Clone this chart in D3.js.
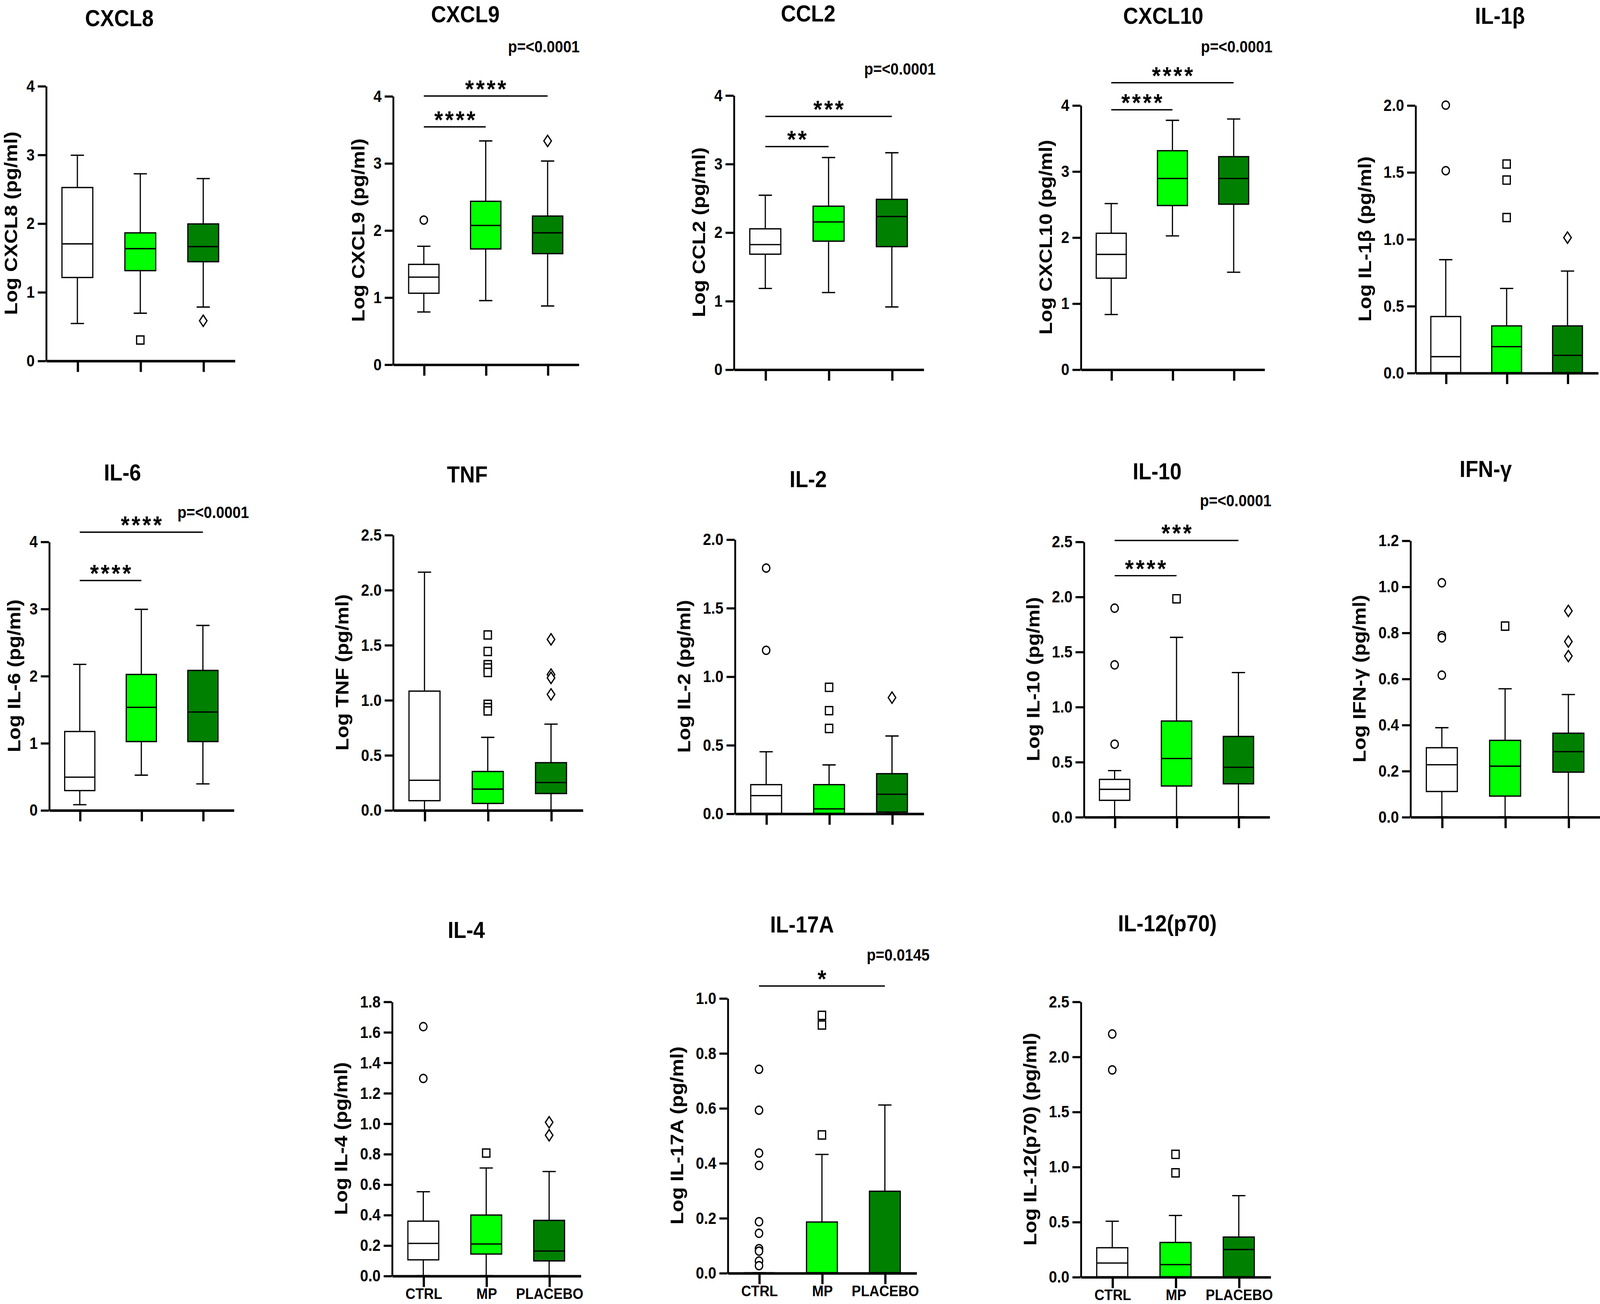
<!DOCTYPE html>
<html>
<head>
<meta charset="utf-8">
<script src="https://cdn.jsdelivr.net/npm/d3@7"></script>
<style>
  html, body { margin: 0; padding: 0; background: #fff; overflow: hidden; }
  svg { display: block; }
</style>
</head>
<body>
<svg id="chart"></svg>
<script>
// ---- data ----
const cytokines = ['CXCL8', 'CXCL9', 'CCL2', 'CXCL10', 'IL-1β',
                   'IL-6', 'TNF', 'IL-2', 'IL-10', 'IFN-γ',
                   'IL-4', 'IL-17A', 'IL-12(p70)'];
const groups = ['CTRL', 'MP', 'PLACEBO'];
const groupColors = ['#ffffff', '#00ff00', '#008000'];

const yMax  = [4, 4, 4, 4, 2,   4, 2.5, 2, 2.5, 1.2,   1.8, 1, 2.5];
const yStep = [1, 1, 1, 1, 0.5, 1, 0.5, 0.5, 0.5, 0.2, 0.2, 0.2, 0.5];

// [min, q1, median, q3, max] per cytokine
const ctrlStats = [
  [0.54, 1.21, 1.70, 2.52, 2.99],
  [0.78, 1.06, 1.30, 1.49, 1.76],
  [1.18, 1.68, 1.82, 2.05, 2.54],
  [0.83, 1.38, 1.74, 2.06, 2.51],
  [0, 0, 0.12, 0.42, 0.845],
  [0.08, 0.29, 0.49, 1.17, 2.17],
  [0, 0.085, 0.27, 1.08, 2.16],
  [0, 0, 0.13, 0.21, 0.45],
  [0, 0.15, 0.25, 0.34, 0.42],
  [0, 0.11, 0.226, 0.30, 0.387],
  [0, 0.104, 0.212, 0.358, 0.551],
  [0, 0, 0, 0, 0],
  [0, 0, 0.125, 0.264, 0.505]
];
const mpStats = [
  [0.69, 1.31, 1.63, 1.86, 2.72],
  [0.95, 1.72, 2.07, 2.43, 3.33],
  [1.12, 1.87, 2.15, 2.38, 3.09],
  [2.02, 2.48, 2.89, 3.31, 3.77],
  [0, 0, 0.195, 0.35, 0.63],
  [0.52, 1.02, 1.53, 2.02, 2.99],
  [0, 0.06, 0.19, 0.35, 0.66],
  [0, 0, 0.033, 0.21, 0.354],
  [0, 0.28, 0.53, 0.87, 1.63],
  [0, 0.09, 0.22, 0.332, 0.556],
  [0, 0.142, 0.208, 0.398, 0.707],
  [0, 0, 0, 0.185, 0.431],
  [0, 0, 0.111, 0.312, 0.557]
];
const placeboStats = [
  [0.78, 1.44, 1.66, 1.99, 2.65],
  [0.87, 1.65, 1.96, 2.21, 3.03],
  [0.91, 1.79, 2.23, 2.48, 3.16],
  [1.47, 2.50, 2.89, 3.22, 3.79],
  [0, 0, 0.13, 0.35, 0.76],
  [0.39, 1.02, 1.46, 2.08, 2.75],
  [0, 0.15, 0.25, 0.43, 0.78],
  [0, 0.01, 0.14, 0.29, 0.565],
  [0, 0.30, 0.45, 0.73, 1.31],
  [0, 0.194, 0.283, 0.363, 0.531],
  [0, 0.097, 0.162, 0.363, 0.684],
  [0, 0, 0, 0.297, 0.611],
  [0, 0, 0.248, 0.361, 0.737]
];

const ctrlOutliers = [
  [], [2.15], [], [], [2.0, 1.51],
  [], [], [1.79, 1.19], [1.895, 1.38, 0.66], [1.016, 0.787, 0.777, 0.615],
  [1.635, 1.295], [0.741, 0.592, 0.436, 0.391, 0.186, 0.144, 0.088, 0.079, 0.043, 0.026], [2.205, 1.879]
];
const mpOutliers = [
  [0.30], [], [], [], [1.56, 1.44, 1.16],
  [], [1.59, 1.44, 1.32, 1.29, 1.25, 0.96, 0.93, 0.90], [0.92, 0.75, 0.62], [1.98], [0.828],
  [0.805], [0.937, 0.902, 0.502], [1.112, 0.944]
];
const placeboOutliers = [
  [0.58], [3.33], [], [], [1.01],
  [], [1.55, 1.23, 1.20, 1.05], [0.845], [], [0.894, 0.761, 0.698],
  [1.007, 0.922], [], []
];

// significance brackets: cytokine index, group from, group to, level, stars
const sigBars = [
  [1, 0, 2, 4.0, '****'], [1, 0, 1, 3.54, '****'],
  [2, 0, 2, 3.69, '***'], [2, 0, 1, 3.25, '**'],
  [3, 0, 2, 4.34, '****'], [3, 0, 1, 3.93, '****'],
  [5, 0, 2, 4.14, '****'], [5, 0, 1, 3.42, '****'],
  [8, 0, 2, 2.51, '***'], [8, 0, 1, 2.19, '****'],
  [11, 0, 2, 1.044, '*']
];
const pValues = ['', 'p=<0.0001', 'p=<0.0001', 'p=<0.0001', '',
                 'p=<0.0001', '', '', 'p=<0.0001', '',
                 '', 'p=0.0145', ''];

// ---- layout (in a 1568 x 1151 frame) ----
// axis x start, axis x end, y of zero, y of max, title centre x, title baseline
const frames = [
  [45, 230, 318.3, 75.8, 117, 23],
  [385, 567, 321.6, 84.7, 456, 19.5],
  [719, 905, 326, 84, 792, 19],
  [1059, 1239, 326, 92.8, 1140, 21],
  [1387, 1566, 329, 92.8, 1470, 21],
  [48, 229, 715, 478, 120, 424],
  [385, 571, 715, 472, 458, 426],
  [720, 905, 718, 476, 792, 430],
  [1062, 1244, 721, 478, 1134, 423],
  [1382, 1568, 721, 477, 1456, 421],
  [384, 569, 1126, 884, 457, 828],
  [713, 898, 1123.5, 881, 786, 823],
  [1059, 1245, 1127, 884, 1144, 822]
];
// p label: level in data units, shift past the axis end
const pLayout = [null, [4.65, 1], [4.30, 12], [4.8, 8], null,
                 [4.35, 15], null, null, [2.82, 2], null,
                 null, [1.136, 13], null];

const FONT = "'Liberation Sans', Arial, Helvetica, sans-serif";
const W = 1568, H = 1151;

const svg = d3.select('#chart')
  .attr('width', window.innerWidth)
  .attr('height', window.innerHeight)
  .attr('viewBox', `0 0 ${W} ${H}`)
  .attr('preserveAspectRatio', 'none');

svg.append('rect').attr('width', W).attr('height', H).attr('fill', '#fff');

const marker = (k, cx, cy) => {
  if (k === 0) return `M${cx - 3.6},${cy}a3.6,3.6 0 1,0 7.2,0a3.6,3.6 0 1,0 -7.2,0Z`;
  if (k === 1) return `M${cx - 3.6},${cy - 3.6}h7.2v7.2h-7.2Z`;
  return `M${cx},${cy - 5}L${cx + 3.7},${cy}L${cx},${cy + 5}L${cx - 3.7},${cy}Z`;
};

cytokines.forEach((name, i) => {
  const [x0, x1, yB, yT, tx, ty] = frames[i];
  const decimal = yStep[i] < 1;
  const lastRow = i >= 10;

  const y = d3.scaleLinear().domain([0, yMax[i]]).range([yB, yT]);
  const x = d3.scalePoint().domain(groups).range([x0, x1]).padding(0.5);
  const ticks = d3.range(0, yMax[i] + yStep[i] / 2, yStep[i]);

  const g = svg.append('g').attr('class', 'panel');

  const stats = [ctrlStats[i], mpStats[i], placeboStats[i]];
  const outs = [ctrlOutliers[i], mpOutliers[i], placeboOutliers[i]];
  const bw = x.step() * 0.49;
  const cap = 13;

  groups.forEach((grp, k) => {
    const [mn, q1, md, q3, mx] = stats[k];
    const cx = x(grp);
    const bg = g.append('g').attr('stroke', '#000').attr('stroke-width', 1.15);

    bg.append('line')
      .attr('x1', cx).attr('x2', cx)
      .attr('y1', y(mx)).attr('y2', y(q3));
    bg.append('line')
      .attr('x1', cx).attr('x2', cx)
      .attr('y1', y(q1)).attr('y2', y(mn));
    bg.append('line')
      .attr('x1', cx - cap / 2).attr('x2', cx + cap / 2)
      .attr('y1', y(mx)).attr('y2', y(mx));
    bg.append('line')
      .attr('x1', cx - cap / 2).attr('x2', cx + cap / 2)
      .attr('y1', y(mn)).attr('y2', y(mn));

    bg.append('rect')
      .attr('x', cx - bw / 2)
      .attr('y', y(q3))
      .attr('width', bw)
      .attr('height', y(q1) - y(q3))
      .attr('fill', groupColors[k]);

    bg.append('line')
      .attr('x1', cx - bw / 2).attr('x2', cx + bw / 2)
      .attr('y1', y(md)).attr('y2', y(md));

    bg.selectAll('path.out')
      .data(outs[k])
      .join('path')
      .attr('class', 'out')
      .attr('d', v => marker(k, cx, y(v)))
      .attr('fill', '#fff')
      .attr('stroke-width', 1.2);
  });

  // axes
  const yAxis = g.append('g')
    .attr('transform', `translate(${x0},0)`)
    .call(d3.axisLeft(y)
      .tickValues(ticks)
      .tickSize(8)
      .tickSizeOuter(0)
      .tickPadding(3)
      .tickFormat(d3.format(decimal ? '.1f' : 'd')));
  yAxis.attr('font-family', FONT).attr('font-size', 14.5).attr('font-weight', 'bold');
  yAxis.select('.domain').attr('stroke-width', 1.8);
  yAxis.selectAll('.tick line').attr('stroke-width', 1.9);
  yAxis.selectAll('.tick text').attr('fill', '#000');

  const xAxis = g.append('g')
    .attr('transform', `translate(0,${yB})`)
    .call(d3.axisBottom(x)
      .tickSize(10)
      .tickSizeOuter(0)
      .tickPadding(1)
      .tickFormat(lastRow ? d => d : () => ''));
  xAxis.attr('font-family', FONT).attr('font-size', 13.5).attr('font-weight', 'bold');
  xAxis.select('.domain').attr('stroke-width', 2.2);
  xAxis.selectAll('.tick line').attr('stroke-width', 2.2);
  xAxis.selectAll('.tick text').attr('fill', '#000');

  // title
  g.append('text')
    .attr('x', tx).attr('y', ty)
    .attr('text-anchor', 'middle')
    .attr('font-family', FONT).attr('font-size', 20.5).attr('font-weight', 'bold')
    .text(name);

  // y label
  const off = decimal ? 48.5 : 33;
  g.append('text')
    .attr('transform', `translate(${x0 - off + 5},${(yB + yT) / 2}) rotate(-90)`)
    .attr('text-anchor', 'middle')
    .attr('font-family', FONT).attr('font-size', 18).attr('font-weight', 'bold')
    .text(`Log ${name} (pg/ml)`);

  // p value
  if (pValues[i]) {
    const [pv, dx] = pLayout[i];
    g.append('text')
      .attr('x', x1 + dx).attr('y', y(pv))
      .attr('text-anchor', 'end')
      .attr('font-family', FONT).attr('font-size', 14.5).attr('font-weight', 'bold')
      .text(pValues[i]);
  }

  // significance brackets
  sigBars.filter(s => s[0] === i).forEach(([, a, b, lvl, stars]) => {
    const xa = x(groups[a]), xb = x(groups[b]);
    g.append('line')
      .attr('x1', xa).attr('x2', xb)
      .attr('y1', y(lvl)).attr('y2', y(lvl))
      .attr('stroke', '#000').attr('stroke-width', 1.2);
    g.append('text')
      .attr('x', (xa + xb) / 2 + 1).attr('y', y(lvl) + 1)
      .attr('text-anchor', 'middle')
      .attr('letter-spacing', 2)
      .attr('font-family', FONT).attr('font-size', 22).attr('font-weight', 'bold')
      .text(stars);
  });
});
</script>
</body>
</html>
